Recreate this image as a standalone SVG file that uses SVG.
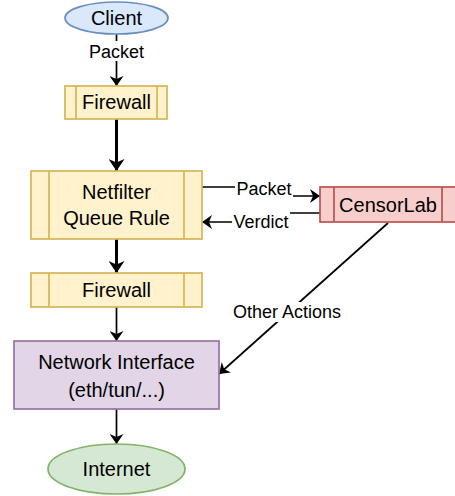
<svg xmlns="http://www.w3.org/2000/svg" width="455" height="496" viewBox="0 0 455 496">
<style>
text{font-family:"Liberation Sans",Arial,sans-serif;fill:#000;text-anchor:middle}
.n{font-size:20px}
.l{font-size:18px}
.yel{fill:#fff2cc;stroke:#d6b656;stroke-width:1.7}
.red{fill:#f8cecc;stroke:#b85450;stroke-width:1.7}
.pur{fill:#e1d5e7;stroke:#9673a6;stroke-width:1.7}
.blu{fill:#dae8fc;stroke:#6c8ebf;stroke-width:1.7}
.grn{fill:#d5e8d4;stroke:#82b366;stroke-width:1.7}
.e{fill:none;stroke:#000;stroke-width:1.7}
.b{stroke-width:3}
.lb{fill:#fff}
</style>
<defs>
<marker id="a" viewBox="0 0 10 14" markerWidth="10" markerHeight="14" refX="10" refY="7" orient="auto" markerUnits="userSpaceOnUse">
<path d="M0,0 L10,7 L0,14 L3,7 z" fill="#000"/>
</marker>
<marker id="ab" viewBox="0 0 10 14" markerWidth="12" markerHeight="16" refX="10" refY="7" orient="auto" markerUnits="userSpaceOnUse" preserveAspectRatio="none">
<path d="M0,0 L10,7 L0,14 L3,7 z" fill="#000"/>
</marker>
</defs>
<rect width="455" height="496" fill="#fff"/>
<g id="connectors">
<path class="e" d="M116.5,34 V86" marker-end="url(#a)"/>
<rect class="lb" x="82" y="41" width="60" height="20"/>
<text class="l" x="116.5" y="57.5">Packet</text>
<path class="e b" d="M116.5,119 V171" marker-end="url(#ab)"/>
<path class="e b" d="M116.5,239 V273" marker-end="url(#ab)"/>
<path class="e" d="M116.5,307 V341" marker-end="url(#a)"/>
<path class="e" d="M116.5,409 V444" marker-end="url(#a)"/>
<path class="e" d="M202,187 H262 V196 H320" marker-end="url(#a)"/>
<rect class="lb" x="235" y="180" width="58" height="19"/>
<text class="l" x="264" y="195">Packet</text>
<path class="e" d="M320,213 H262 V222 H202" marker-end="url(#a)"/>
<rect class="lb" x="232" y="212" width="58" height="19"/>
<text class="l" x="261" y="228">Verdict</text>
<path class="e" d="M388,223 L219,374" marker-end="url(#a)"/>
<rect class="lb" x="231" y="302" width="112" height="20"/>
<text class="l" x="287" y="318">Other Actions</text>
</g>
<g id="client">
<ellipse class="blu" cx="116.5" cy="18" rx="51.5" ry="16"/>
<text class="n" x="116.5" y="25">Client</text>
</g>
<g id="firewall1">
<rect class="yel" x="65" y="86" width="102" height="33"/>
<path class="yel" d="M76,86 V119 M157,86 V119"/>
<text class="n" x="116.5" y="109">Firewall</text>
</g>
<g id="netfilter">
<rect class="yel" x="31" y="171" width="171" height="68"/>
<path class="yel" d="M49,171 V239 M184,171 V239"/>
<text class="n" x="116.5" y="199">Netfilter</text>
<text class="n" x="116.5" y="225">Queue Rule</text>
</g>
<g id="firewall2">
<rect class="yel" x="31" y="273" width="171" height="34"/>
<path class="yel" d="M49,273 V307 M184,273 V307"/>
<text class="n" x="116.5" y="297">Firewall</text>
</g>
<g id="censorlab">
<rect class="red" x="320" y="187" width="136" height="35"/>
<path class="red" d="M334,187 V222 M442,187 V222"/>
<text class="n" x="388" y="212">CensorLab</text>
</g>
<g id="netif">
<rect class="pur" x="14" y="341" width="205" height="68"/>
<text class="n" x="116.5" y="369">Network Interface</text>
<text class="n" x="116.5" y="397">(eth/tun/...)</text>
</g>
<g id="internet">
<ellipse class="grn" cx="116.5" cy="469" rx="68.5" ry="25"/>
<text class="n" x="116.5" y="476">Internet</text>
</g>
</svg>
